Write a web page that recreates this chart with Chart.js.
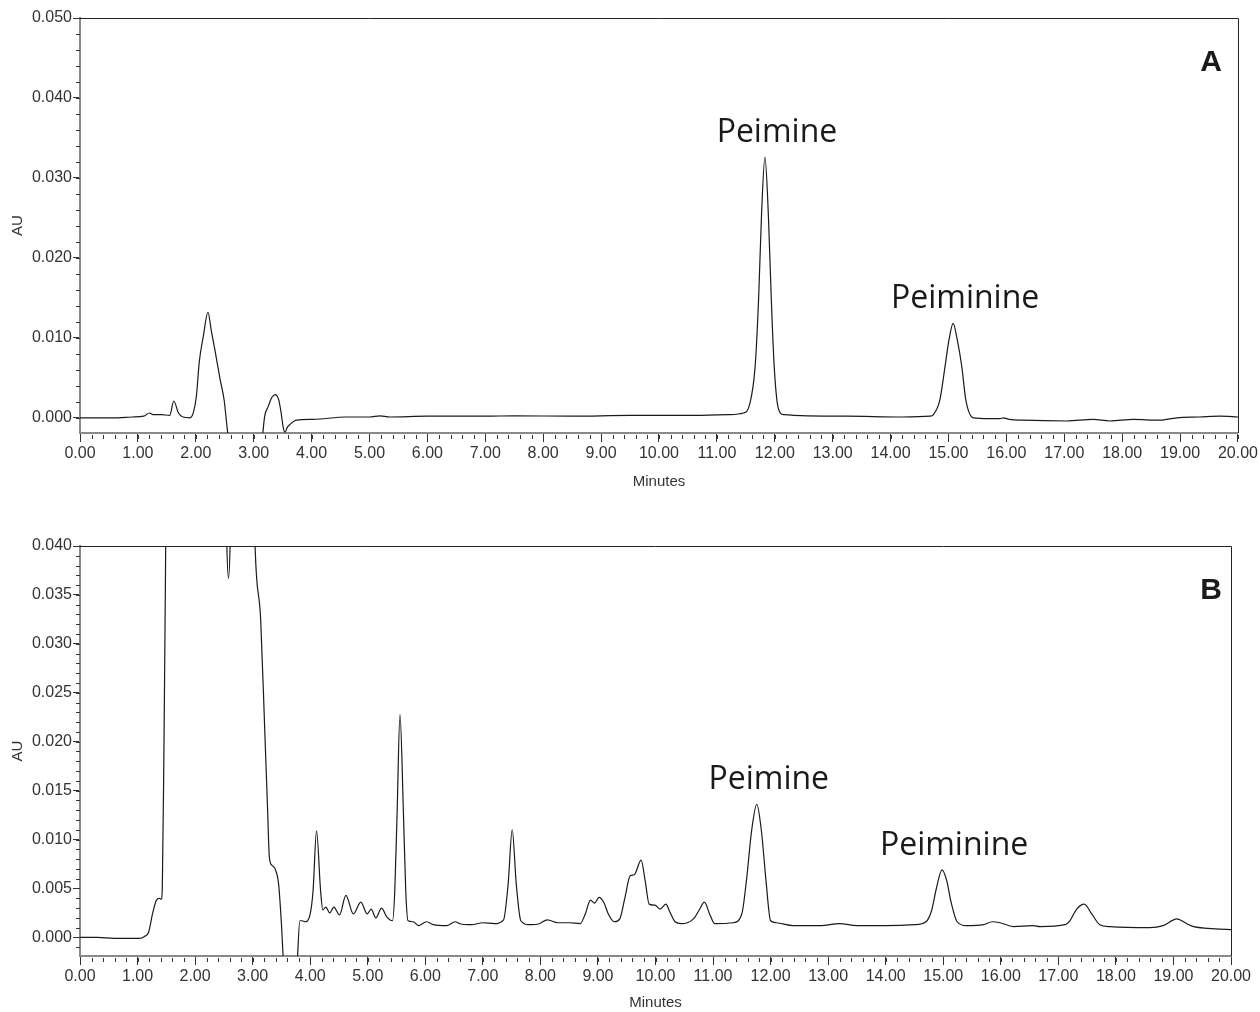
<!DOCTYPE html>
<html><head><meta charset="utf-8">
<script src="https://cdn.jsdelivr.net/npm/chart.js@4.4.0/dist/chart.umd.min.js"></script>
<style>
html,body{margin:0;padding:0;background:#fff;}
#wrap{position:relative;width:1260px;height:1012px;overflow:hidden;}
.box{position:absolute;left:0;width:1260px;}
#boxA{top:0;height:500px;}
#boxB{top:500px;height:512px;}
</style></head><body>
<div id="wrap">
<div class="box" id="boxA"><canvas id="cA" width="1260" height="500"></canvas></div>
<div class="box" id="boxB"><canvas id="cB" width="1260" height="512"></canvas></div>
</div>
<script>
// ---------- data (minutes, AU) ----------
const timesA = [0.00,0.30,0.60,0.90,1.10,1.20,1.26,1.40,1.55,1.62,1.70,1.78,1.90,1.96,2.01,2.06,2.13,2.21,2.27,2.33,2.42,2.49,2.53,2.56,2.60,3.10,3.15,3.19,3.25,3.31,3.37,3.43,3.47,3.51,3.54,3.58,3.63,3.74,4.03,4.60,5.00,5.18,5.35,6.00,7.00,7.50,8.50,9.50,10.50,11.20,11.46,11.57,11.66,11.72,11.77,11.83,11.89,11.94,11.99,12.06,12.15,13.24,14.20,14.68,14.74,14.85,14.94,15.01,15.08,15.15,15.23,15.30,15.43,15.70,15.89,15.95,16.05,16.29,17.04,17.50,17.79,18.19,18.65,18.94,19.34,19.69,20.00];
const valuesA = [0.0000,0.0000,0.0000,0.0001,0.0002,0.0006,0.0004,0.0004,0.0003,0.0021,0.0006,0.0001,0.0000,0.0007,0.0027,0.0070,0.0102,0.0132,0.0108,0.0085,0.0048,0.0022,-0.0005,-0.0025,-0.0060,-0.0060,-0.0025,0.0002,0.0014,0.0025,0.0029,0.0023,0.0008,-0.0012,-0.0018,-0.0012,-0.0008,-0.0003,-0.0002,0.0001,0.0001,0.00025,0.0001,0.0002,0.0002,0.00025,0.0002,0.0003,0.0003,0.0004,0.0006,0.0018,0.0064,0.0148,0.0252,0.0326,0.0252,0.0148,0.0064,0.0012,0.0004,0.0002,0.0001,0.0002,0.0004,0.0022,0.0064,0.0098,0.0118,0.0098,0.0064,0.0022,0.0000,-0.0001,-0.0001,0.0000,-0.0002,-0.0003,-0.0004,-0.0002,-0.0004,-0.0002,-0.0003,0.0000,0.0001,0.0002,0.0001];

const timesB = [0.00,0.30,0.60,0.90,1.04,1.12,1.19,1.26,1.32,1.38,1.41,1.43,1.46,1.49,1.52,2.50,2.55,2.58,2.61,2.66,2.98,3.04,3.14,3.21,3.26,3.29,3.33,3.39,3.45,3.50,3.53,3.56,3.75,3.78,3.82,3.86,3.91,4.00,4.05,4.11,4.18,4.22,4.27,4.34,4.41,4.51,4.62,4.75,4.88,4.99,5.06,5.14,5.24,5.33,5.43,5.47,5.51,5.56,5.62,5.66,5.70,5.79,5.88,6.02,6.14,6.37,6.52,6.60,6.80,7.00,7.20,7.36,7.44,7.51,7.58,7.66,7.80,7.98,8.12,8.30,8.50,8.69,8.78,8.87,8.94,9.02,9.10,9.18,9.28,9.38,9.47,9.56,9.63,9.75,9.82,9.89,9.99,10.08,10.18,10.25,10.34,10.45,10.66,10.76,10.85,10.94,11.03,11.35,11.50,11.58,11.67,11.76,11.84,11.92,12.00,12.10,12.39,12.86,13.20,13.50,14.00,14.50,14.70,14.80,14.88,14.98,15.06,15.14,15.24,15.40,15.70,15.85,15.99,16.22,16.56,16.68,17.12,17.20,17.32,17.45,17.58,17.72,17.90,18.59,18.82,19.06,19.23,19.35,20.00];
const valuesB = [0.0000,0.0000,-0.0001,-0.0001,-0.0001,0.0001,0.0005,0.0024,0.0037,0.0040,0.0039,0.0050,0.0200,0.0405,0.0600,0.0600,0.0405,0.0367,0.0405,0.0600,0.0600,0.0405,0.0324,0.0212,0.0130,0.0082,0.0074,0.0070,0.0055,0.0014,-0.0020,-0.0060,-0.0060,-0.0020,0.0017,0.0017,0.0016,0.0024,0.0048,0.0109,0.0048,0.0028,0.0031,0.0025,0.0031,0.0023,0.0043,0.0024,0.0036,0.0024,0.0029,0.0020,0.0030,0.0021,0.0017,0.0048,0.0127,0.0228,0.0127,0.0048,0.0017,0.0016,0.0012,0.0016,0.0013,0.0012,0.0016,0.0014,0.0013,0.0015,0.0014,0.0018,0.0055,0.0110,0.0055,0.0017,0.0013,0.0014,0.0018,0.0015,0.0015,0.0014,0.0024,0.0038,0.0035,0.0041,0.0036,0.0024,0.0016,0.0019,0.0041,0.0063,0.0064,0.0079,0.0058,0.0034,0.0033,0.0029,0.0034,0.0026,0.0016,0.0014,0.0019,0.0028,0.0036,0.0024,0.0014,0.0015,0.0024,0.0058,0.0109,0.0136,0.0109,0.0058,0.0017,0.0015,0.0012,0.0012,0.0014,0.0012,0.0012,0.0013,0.0016,0.0028,0.0050,0.0069,0.0058,0.0035,0.0016,0.0012,0.0013,0.0016,0.0015,0.0011,0.0012,0.0011,0.0013,0.0017,0.0029,0.0034,0.0024,0.0013,0.0011,0.0010,0.0012,0.0019,0.0014,0.0011,0.0008];

// tick labels
const xTicks = [0,1,2,3,4,5,6,7,8,9,10,11,12,13,14,15,16,17,18,19,20];
const yTicksA = [0.000,0.010,0.020,0.030,0.040,0.050];
const yTicksB = [0.000,0.005,0.010,0.015,0.020,0.025,0.030,0.035,0.040];
// peak labels (text, retention time of labelled peak)
const peaksA = [{text:'Peimine', t:11.83},{text:'Peiminine', t:15.08}];
const peaksB = [{text:'Peimine', t:11.76},{text:'Peiminine', t:14.98}];

// ---------- drawing ----------
const TICK_FONT = {family:"'Liberation Sans', Arial, sans-serif", size:16};
const TITLE_FONT = {family:"'Liberation Sans', Arial, sans-serif", size:15};

const decor = {
  id:'decor',
  afterDraw(chart, args, o) {
    const {ctx, chartArea:a, scales:{x,y}} = chart;
    ctx.save();
    // top + right frame
    ctx.strokeStyle = '#222'; ctx.lineWidth = 1;
    ctx.beginPath();
    ctx.moveTo(a.left, a.top + 0.5); ctx.lineTo(a.right + 0.5, a.top + 0.5); ctx.lineTo(a.right + 0.5, a.bottom);
    ctx.stroke();
    // minor ticks
    ctx.strokeStyle = '#333'; ctx.lineWidth = 1;
    ctx.beginPath();
    for (let k = 0; k * o.xMinor <= x.max + 1e-9; k++) {
      const px = Math.round(x.getPixelForValue(k * o.xMinor)) + 0.5;
      ctx.moveTo(px, a.bottom + 2); ctx.lineTo(px, a.bottom + 6);
    }
    const k0 = Math.ceil(y.min / o.yMinor - 1e-9);
    for (let k = k0; k * o.yMinor <= y.max + 1e-9; k++) {
      const py = Math.round(y.getPixelForValue(k * o.yMinor)) + 0.5;
      ctx.moveTo(a.left - 4, py); ctx.lineTo(a.left, py);
    }
    ctx.stroke();
    // peak labels
    const ds = chart.data.datasets[0].data;
    ctx.fillStyle = '#1a1a1a';
    ctx.font = "32px 'Open Sans', 'Noto Sans', sans-serif";
    ctx.textAlign = 'center'; ctx.textBaseline = 'alphabetic';
    o.peaks.forEach(p => {
      let best = ds[0];
      ds.forEach(d => { if (Math.abs(d.x - p.t) < Math.abs(best.x - p.t)) best = d; });
      ctx.fillText(p.text, x.getPixelForValue(best.x) + 12, y.getPixelForValue(best.y) - 15);
    });
    // panel letter
    ctx.font = "bold 30px 'Liberation Sans', Arial, sans-serif";
    ctx.textAlign = 'right'; ctx.textBaseline = 'top';
    ctx.fillText(o.letter, chart.width - 38, a.top + 30);
    ctx.restore();
  }
};

function makeChart(id, times, values, yMin, yMax, yTicks, opt) {
  return new Chart(document.getElementById(id), {
    type: 'line',
    data: { datasets: [{
      data: times.map((t, i) => ({x: t, y: values[i]})),
      borderColor: '#1a1a1a', borderWidth: 1.2, pointRadius: 0,
      cubicInterpolationMode: 'monotone', fill: false
    }]},
    options: {
      responsive: false, animation: false, events: [],
      layout: { padding: {top: opt.padTop, right: opt.padRight, left: 0, bottom: 0} },
      plugins: { legend: {display: false}, tooltip: {enabled: false},
        decor: { xMinor: 0.2, yMinor: opt.yMinor, peaks: opt.peaks, letter: opt.letter } },
      scales: {
        x: {
          type: 'linear', min: 0, max: 20,
          afterBuildTicks: s => { s.ticks = xTicks.map(v => ({value: v})); },
          afterFit: s => { s.height = opt.xHeight; },
          ticks: { autoSkip: false, maxRotation: 0, minRotation: 0, padding: 2, color: '#333', font: TICK_FONT,
                   callback: v => Number(v).toFixed(2) },
          grid: { drawOnChartArea: false, drawTicks: true, tickLength: 9, tickColor: '#333', tickWidth: 1 },
          border: { display: true, color: '#8a8a8a', width: 2 },
          title: { display: true, text: 'Minutes', color: '#333', font: TITLE_FONT, padding: {top: 0, bottom: opt.titlePad} }
        },
        y: {
          type: 'linear', min: yMin, max: yMax,
          afterBuildTicks: s => { s.ticks = yTicks.map(v => ({value: v})); },
          afterFit: s => { s.width = 80; },
          ticks: { autoSkip: false, padding: 1, color: '#333', font: TICK_FONT,
                   callback: v => Number(v).toFixed(3) },
          grid: { drawOnChartArea: false, drawTicks: true, tickLength: 7, tickColor: '#333', tickWidth: 1 },
          border: { display: true, color: '#8a8a8a', width: 2 },
          title: { display: true, text: 'AU', color: '#333', font: TITLE_FONT, padding: {top: 9, bottom: 0} }
        }
      }
    },
    plugins: [decor]
  });
}

makeChart('cA', timesA, valuesA, -0.0019, 0.050, yTicksA,
  {padTop: 18, padRight: 22, xHeight: 67, titlePad: 9, yMinor: 0.002, peaks: peaksA, letter: 'A'});
makeChart('cB', timesB, valuesB, -0.0019, 0.040, yTicksB,
  {padTop: 46, padRight: 29, xHeight: 56, titlePad: 0, yMinor: 0.001, peaks: peaksB, letter: 'B'});
</script>
</body></html>
